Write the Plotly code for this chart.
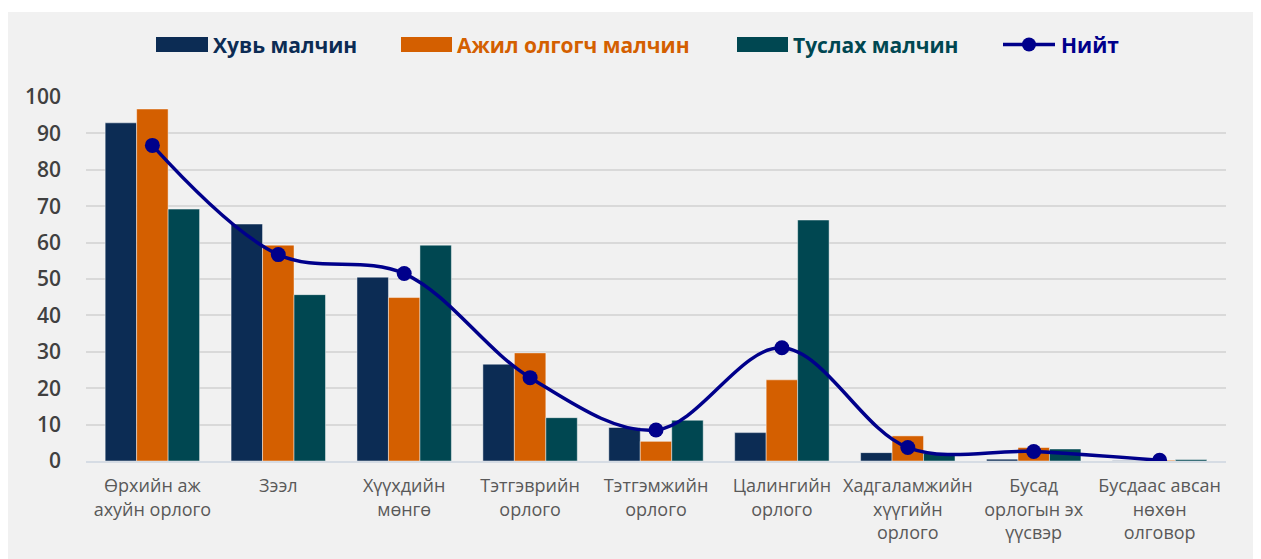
import plotly.graph_objects as go

categories = ["Өрхийн аж<br>ахуйн орлого", "Зээл", "Хүүхдийн<br>мөнгө", "Тэтгэврийн<br>орлого",
              "Тэтгэмжийн<br>орлого", "Цалингийн<br>орлого", "Хадгаламжийн<br>хүүгийн<br>орлого",
              "Бусад<br>орлогын эх<br>үүсвэр", "Бусдаас авсан<br>нөхөн<br>олговор"]
series_names = ["Хувь малчин", "Ажил олгогч малчин", "Туслах малчин"]
khuv = [92.9, 65.1, 50.5, 26.6, 9.2, 7.8, 2.3, 0.5, 0.1]
ajil = [96.7, 59.3, 44.9, 29.7, 5.4, 22.3, 6.9, 3.7, 0.2]
tuslakh = [69.2, 45.7, 59.3, 11.9, 11.2, 66.2, 2.1, 3.3, 0.4]
total_name = "Нийт"
total = [86.7, 56.7, 51.5, 22.9, 8.5, 31.1, 3.7, 2.6, 0.2]
y_ticks = [0, 10, 20, 30, 40, 50, 60, 70, 80, 90, 100]

colors = ["#0C2C54", "#D45F00", "#004751"]
line_color = "#00008B"

OFF = 8  # page body margin
W, H = 1261 - OFF, 559 - OFF
L, R, T, B = 86 - OFF, 1226 - OFF, 97 - OFF, 461 - OFF


def px(x):
    return (x - OFF - L) / (R - L)


def py(y):
    return (B - (y - OFF)) / (B - T)


fig = go.Figure()
for name, vals, c in zip(series_names, [khuv, ajil, tuslakh], colors):
    fig.add_trace(go.Bar(x=categories, y=vals, name=name, marker_color=c,
                         marker_line=dict(color="rgba(255,255,255,0.45)", width=1),
                         showlegend=False))
fig.add_trace(go.Scatter(x=categories, y=total, name=total_name, mode="lines+markers",
                         line=dict(color=line_color, width=3.5, shape="spline", smoothing=1.0),
                         marker=dict(size=15, color=line_color), showlegend=False))

shapes = [dict(type="rect", xref="paper", yref="paper", x0=px(8), x1=px(1256), y0=py(570), y1=py(12),
               fillcolor="#F1F1F1", line_width=0, layer="below")]
annotations = []
legend_boxes = [(156, 208), (401, 452), (737, 788)]
legend_text_x = [211, 455, 791]
ly = 44.5
for (x0, x1), tx, name, c in zip(legend_boxes, legend_text_x, series_names, colors):
    shapes.append(dict(type="rect", xref="paper", yref="paper", x0=px(x0), x1=px(x1),
                       y0=py(ly + 7.5), y1=py(ly - 7.5), fillcolor=c, line_width=0))
    annotations.append(dict(xref="paper", yref="paper", x=px(tx), y=py(ly), xanchor="left", yanchor="middle",
                            text=f"<b>{name}</b>", showarrow=False,
                            font=dict(family="Open Sans", size=21, color=c)))
shapes.append(dict(type="line", xref="paper", yref="paper", x0=px(1003), x1=px(1055), y0=py(ly), y1=py(ly),
                   line=dict(color=line_color, width=3.5)))
shapes.append(dict(type="circle", xref="paper", yref="paper", x0=px(1022), x1=px(1036),
                   y0=py(ly + 7), y1=py(ly - 7), fillcolor=line_color, line_width=0))
annotations.append(dict(xref="paper", yref="paper", x=px(1059), y=py(ly), xanchor="left", yanchor="middle",
                        text=f"<b>{total_name}</b>", showarrow=False,
                        font=dict(family="Open Sans", size=21, color=line_color)))

fig.update_layout(
    width=W, height=H, autosize=False,
    margin=dict(l=L, r=W - R, t=T, b=H - B, pad=0),
    paper_bgcolor="white", plot_bgcolor="rgba(0,0,0,0)",
    barmode="group", bargap=0.25, bargroupgap=0,
    shapes=shapes, annotations=annotations,
    font=dict(family="Open Sans"),
)
fig.update_xaxes(tickangle=0, showgrid=False, showline=True, linecolor="#D6DCE4", linewidth=1.5,
                 tickfont=dict(family="Open Sans", size=18, color="#595959"), ticks="",
                 ticklabelstandoff=8)
fig.update_yaxes(range=[0, 100], tickvals=y_ticks, showgrid=True, gridcolor="#D9D9D9", gridwidth=1.5,
                 zeroline=False, tickfont=dict(family="Open Sans", size=21, color="#404040", weight=600),
                 ticklabelstandoff=24)

fig.write_html("out.html")
